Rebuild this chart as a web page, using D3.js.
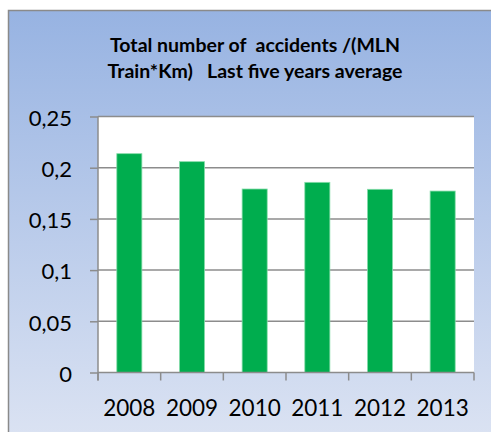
<!DOCTYPE html>
<html><head><meta charset="utf-8">
<script src="https://cdn.jsdelivr.net/npm/d3@7"></script>
<style>html,body{margin:0;padding:0;background:#fff;overflow:hidden}</style>
</head><body>
<svg id="c" width="491" height="432"></svg>
<script>
const years = ["2008","2009","2010","2011","2012","2013"];
const accidents = [0.2137, 0.2059, 0.1792, 0.1857, 0.1789, 0.1772];
const yTickValues = [0, 0.05, 0.1, 0.15, 0.2, 0.25];
const yTickLabels = ["0","0,05","0,1","0,15","0,2","0,25"];
const titleLines = ["Total number of  accidents /(MLN", "Train*Km)   Last five years average"];

const svg = d3.select("#c");
const defs = svg.append("defs");
const grad = defs.append("linearGradient").attr("id","bg").attr("x1",0).attr("y1",0).attr("x2",0).attr("y2",1);
grad.append("stop").attr("offset","0%").attr("stop-color","#97b3e2");
grad.append("stop").attr("offset","100%").attr("stop-color","#dde4f3");

svg.append("rect").attr("x",8.5).attr("y",10.5).attr("width",500).attr("height",440)
  .attr("fill","url(#bg)").attr("stroke","#8a8a8a").attr("stroke-width",1.5);

const m = {left:98, right:474, top:116.5, bottom:372.5};
const x = d3.scaleBand().domain(years).range([m.left, m.right]).paddingInner(0.6).paddingOuter(0.3);
const xb = d3.scaleBand().domain(years).range([m.left, m.right]);
const y = d3.scaleLinear().domain([0,0.25]).range([m.bottom, m.top]);

svg.append("rect").attr("x",m.left).attr("y",m.top).attr("width",m.right-m.left).attr("height",m.bottom-m.top).attr("fill","#fff");

svg.append("g").selectAll("line").data(yTickValues.filter(v=>v>0)).join("line")
  .attr("x1",m.left).attr("x2",m.right).attr("y1",d=>y(d)).attr("y2",d=>y(d))
  .attr("stroke","#8c8c8c").attr("stroke-width",1.5);

svg.append("g").selectAll("rect").data(years).join("rect")
  .attr("x",(d)=>x(d)).attr("width",x.bandwidth())
  .attr("y",(d,i)=>y(accidents[i])).attr("height",(d,i)=>y(0)-y(accidents[i]))
  .attr("fill","#00ad4e").attr("stroke","#86dcaa").attr("stroke-width",0.8);

const yAxis = d3.axisLeft(y).tickValues(yTickValues).tickFormat((d,i)=>yTickLabels[i]).tickSize(8).tickPadding(18);
const gy = svg.append("g").attr("transform",`translate(${m.left},0)`).call(yAxis);
gy.select(".domain").attr("stroke","#8c8c8c").attr("stroke-width",1.5).attr("d",`M0,${m.top}V${m.bottom+8}`);
gy.selectAll(".tick line").attr("stroke","#8c8c8c").attr("stroke-width",1.5);
gy.selectAll(".tick text").attr("font-family","Lato, 'Open Sans', sans-serif").attr("font-size",22).attr("fill","#000").attr("dy","0.4em");

const gx = svg.append("g").attr("transform",`translate(0,${m.bottom})`);
gx.append("line").attr("x1",m.left).attr("x2",m.right).attr("stroke","#8c8c8c").attr("stroke-width",1.5);
const bounds = years.map(d=>xb(d)).concat([m.right]);
gx.selectAll("line.tk").data(bounds).join("line").attr("class","tk")
  .attr("x1",d=>d).attr("x2",d=>d).attr("y1",0).attr("y2",8).attr("stroke","#8c8c8c").attr("stroke-width",1.5);
gx.selectAll("text").data(years).join("text")
  .attr("x",d=>xb(d)+xb.bandwidth()/2).attr("y",43.5).attr("text-anchor","middle")
  .attr("font-family","Lato, 'Open Sans', sans-serif").attr("font-size",22.5).attr("fill","#000").text(d=>d);

const t = svg.append("text").attr("text-anchor","middle").attr("font-family","Lato, 'Open Sans', sans-serif")
  .attr("font-weight","bold").attr("font-size",19.5).attr("fill","#000");
t.selectAll("tspan").data(titleLines).join("tspan").attr("x",255).attr("y",(d,i)=>52+i*26).attr("xml:space","preserve").style("white-space","pre").text(d=>d);
</script>
</body></html>
